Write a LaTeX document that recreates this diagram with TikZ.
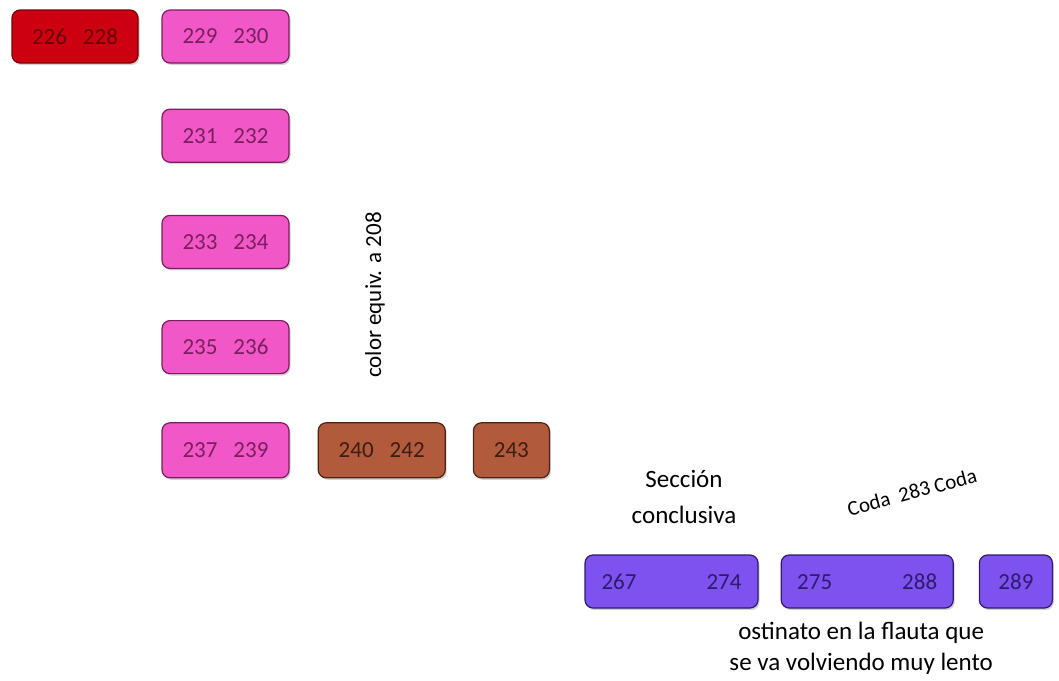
\documentclass[tikz,border=0pt]{standalone}
\usepackage{fontspec}
\setmainfont{Carlito}
\usepackage{tikz}
\usetikzlibrary{positioning, calc, shadows}

\definecolor{redbox}{HTML}{CC0010}
\definecolor{redline}{HTML}{7A0008}
\definecolor{pinkbox}{HTML}{F257C8}
\definecolor{pinkline}{HTML}{7A1E5E}
\definecolor{brownbox}{HTML}{B25A3C}
\definecolor{brownline}{HTML}{4A2416}
\definecolor{lilabox}{HTML}{7D52EE}
\definecolor{lilaline}{HTML}{2E1A6E}

\tikzset{
    bar/.style={rounded corners=8pt, minimum height=53pt, inner sep=0pt,
        line width=1.2pt, font=\fontsize{23}{24}\selectfont,
        drop shadow={shadow xshift=1.5pt, shadow yshift=-2pt, opacity=0.35}},
    redbar/.style={bar, fill=redbox, draw=redline, text=redline!85!black},
    pinkbar/.style={bar, fill=pinkbox, draw=pinkline, text=pinkline},
    brownbar/.style={bar, fill=brownbox, draw=brownline, text=brownline!80!black},
    lilabar/.style={bar, fill=lilabox, draw=lilaline, text=lilaline},
    note/.style={font=\fontsize{25}{36}\selectfont, align=center}
}

\begin{document}
\begin{tikzpicture}[x=1pt, y=1pt, node distance=48pt]
    \useasboundingbox (0,0) rectangle (1059,-680);

    \node (A) [redbar, minimum width=126pt] at (75,-36.5) {226\hspace{16pt}228};
    \node (B1) [pinkbar, minimum width=127pt] at (225.5,-36.5) {229\hspace{16pt}230};
    \node (B2) [pinkbar, minimum width=127pt, below=45pt of B1] {231\hspace{16pt}232};
    \node (B3) [pinkbar, minimum width=127pt, below=52pt of B2] {233\hspace{16pt}234};
    \node (B4) [pinkbar, minimum width=127pt, below=51pt of B3] {235\hspace{16pt}236};
    \node (B5) [pinkbar, minimum width=127pt, minimum height=55pt, below=48pt of B4] {237\hspace{16pt}239};
    \node (C1) [brownbar, minimum width=127pt, minimum height=55pt, right=28pt of B5] {240\hspace{16pt}242};
    \node (C2) [brownbar, minimum width=76pt, minimum height=55pt, right=27pt of C1] {243};

    \node (D1) [lilabar, minimum width=173pt] at (671.5,-581.5) {267\hspace{70pt}274};
    \node (D2) [lilabar, minimum width=172pt, right=22pt of D1] {275\hspace{70pt}288};
    \node (D3) [lilabar, minimum width=73pt, right=25pt of D2] {289};

    % textos
    \node (equiv) [rotate=90, font=\fontsize{23}{24}\selectfont] at (375,-295) {color equiv. a 208};
    \node (seccion) [note] at (684,-497) {Sección\\conclusiva};
    \node (coda) [rotate=15, font=\fontsize{21}{22}\selectfont] at (912,-492) {Coda\ \ 283 Coda};
    \node (ostinato) [note, font=\fontsize{25}{31}\selectfont, below=10pt of D2.south, anchor=north, xshift=-6pt] {ostinato en la flauta que\\se va volviendo muy lento};

\end{tikzpicture}
\end{document}
